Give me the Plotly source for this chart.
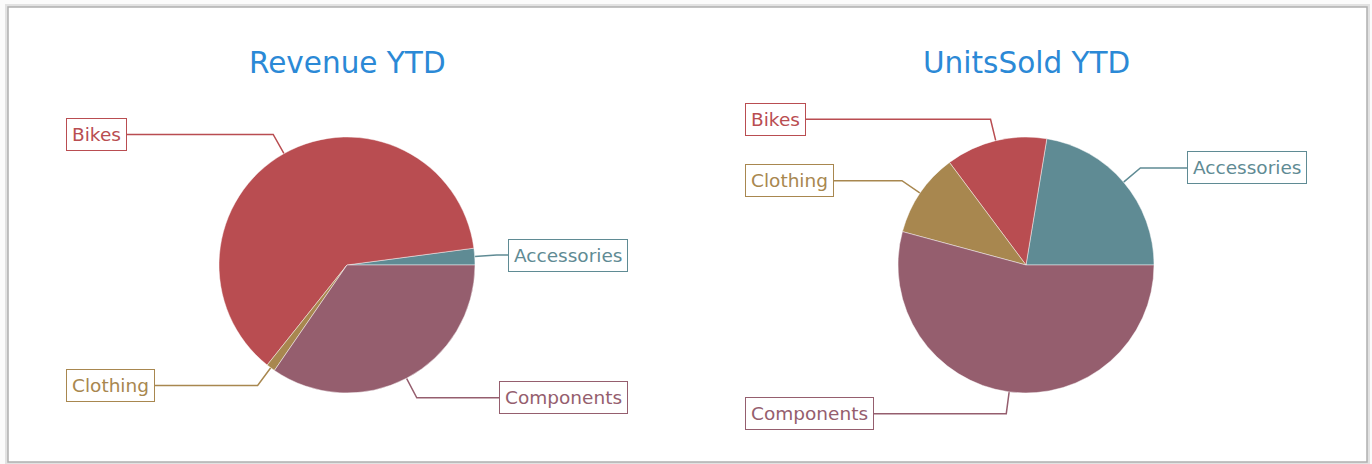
import numpy as np
import plotly.graph_objects as go

# data
categories = ["Accessories", "Bikes", "Clothing", "Components"]
revenue_ytd = [593, 17560, 318, 9770]          # thousands
units_sold_ytd = [4480, 2560, 2120, 10840]
titles = ["Revenue YTD", "UnitsSold YTD"]

colors = ["#5f8b94", "#b94d51", "#a8874f", "#955e6e"]
title_color = "#2b89d6"
font = "DejaVu Sans"

W, H = 1372, 464
centers = [347, 1026]
cy = 265
r = 128
lead = 22        # radial part of the leader line
label_off = 281  # distance from pie centre to the outer edge of the label boxes

fig = go.Figure()
annotations = []

for cx, vals, title in zip(centers, [revenue_ytd, units_sold_ytd], titles):
    v = np.array(vals, dtype=float)
    frac = v / v.sum()
    # first slice starts at 3 o'clock and the slices run counterclockwise
    fig.add_trace(go.Pie(
        labels=categories, values=vals, sort=False,
        direction="counterclockwise", rotation=90 - frac[0] * 360,
        marker=dict(colors=colors, line=dict(color="rgba(255,255,255,0.45)", width=1)),
        textinfo="none", hoverinfo="label+value+percent", showlegend=False,
        domain=dict(x=[(cx - r) / W, (cx + r) / W],
                    y=[1 - (cy + r) / H, 1 - (cy - r) / H]),
    ))
    annotations.append(dict(
        text=title, x=cx, y=63, xref="x", yref="y", showarrow=False,
        font=dict(family=font, size=29.5, color=title_color),
        xanchor="center", yanchor="middle"))

    # leader lines and boxed labels, from the slice mid angles
    mids = np.radians((np.cumsum(frac) - frac / 2) * 360)
    for name, col, a in zip(categories, colors, mids):
        x0, y0 = cx + r * np.cos(a), cy - r * np.sin(a)
        x1, y1 = cx + (r + lead) * np.cos(a), cy - (r + lead) * np.sin(a)
        right = np.cos(a) >= 0
        x2 = cx + label_off if right else cx - label_off
        fig.add_trace(go.Scatter(
            x=[x0, x1, x2], y=[y0, y1, y1], mode="lines",
            line=dict(color=col, width=1.5), hoverinfo="skip", showlegend=False))
        annotations.append(dict(
            text=name, x=x2, y=y1, xref="x", yref="y", showarrow=False,
            xanchor="right" if right else "left", yanchor="middle",
            font=dict(family=font, size=18.5, color=col),
            bgcolor="white", bordercolor=col, borderwidth=1, borderpad=5))

shapes = [
    dict(type="rect", xref="x", yref="y", x0=6.5, y0=5.5, x1=1368.5, y1=463.5,
         fillcolor="rgba(0,0,0,0)", line=dict(color="#e2e2e2", width=3), layer="below"),
    dict(type="rect", xref="x", yref="y", x0=8, y0=7, x1=1367, y1=462,
         fillcolor="white", line=dict(color="#b0b0b0", width=1.5), layer="below"),
]

fig.update_layout(
    width=W, height=H, margin=dict(l=0, r=0, t=0, b=0),
    paper_bgcolor="#fbfbfb", plot_bgcolor="rgba(0,0,0,0)",
    xaxis=dict(range=[0, W], visible=False, fixedrange=True),
    yaxis=dict(range=[H, 0], visible=False, fixedrange=True),
    annotations=annotations, shapes=shapes,
)

fig.write_html("out.html", config={"displayModeBar": False},
               post_script="document.body.style.margin = '0';")
